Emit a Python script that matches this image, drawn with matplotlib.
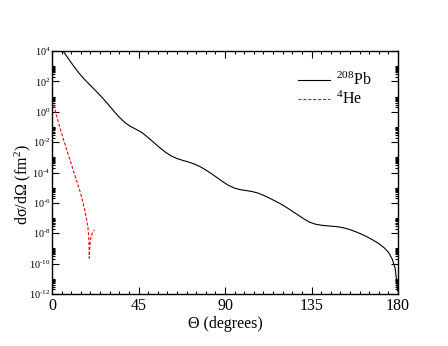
import numpy as np
import matplotlib
matplotlib.use('Agg')
import matplotlib.pyplot as plt
from matplotlib.ticker import FixedLocator, NullFormatter

plt.rcParams['font.family'] = ['Liberation Serif', 'DejaVu Serif']
plt.rcParams['mathtext.fontset'] = 'custom'
plt.rcParams['mathtext.rm'] = 'Liberation Serif'
plt.rcParams['mathtext.it'] = 'Liberation Serif:italic'

# 208Pb cross section, angle (deg) and log10(dsigma/dOmega)
theta_pb = [5.5, 8, 11, 14, 17, 20, 23, 26, 29, 32, 35, 38, 41, 44, 47, 50,
            53, 56, 59, 62, 65, 68, 71, 74, 77, 80, 83, 86, 89, 92, 95, 98,
            101, 104, 107, 110, 113, 116, 119, 122, 125, 128, 131, 134, 137,
            140, 143, 146, 149, 152, 155, 158, 161, 164, 167, 170, 173, 175,
            177, 178.5, 179.4, 179.8]
logsig_pb = [4.05, 3.59, 3.05, 2.55, 2.12, 1.73, 1.35, 0.95, 0.52, 0.07,
             -0.36, -0.72, -0.98, -1.17, -1.39, -1.7, -2.03, -2.36, -2.66,
             -2.91, -3.08, -3.2, -3.31, -3.44, -3.61, -3.83, -4.08, -4.35,
             -4.62, -4.86, -5.03, -5.13, -5.19, -5.25, -5.35, -5.5, -5.68,
             -5.87, -6.07, -6.3, -6.55, -6.8, -7.05, -7.27, -7.4, -7.47,
             -7.51, -7.54, -7.58, -7.65, -7.76, -7.9, -8.06, -8.24, -8.45,
             -8.68, -8.98, -9.25, -9.7, -10.3, -11.27, -11.8]

# 4He cross section
theta_he = [1.0, 2.1, 4.0, 6.0, 8.0, 10.0, 12.0, 14.0, 15.5, 17.0, 18.0, 18.7,
            19.1, 19.3, 19.4, 19.55, 19.8, 20.3, 21.0, 22.0]
logsig_he = [0.45, -0.15, -1.0, -1.84, -2.64, -3.43, -4.22, -5.02, -5.65,
             -6.45, -7.1, -7.65, -8.2, -8.8, -9.64, -9.1, -8.7, -8.25, -7.98,
             -7.78]

xticks = [0, 45, 90, 135, 180]
yexp = [4, 2, 0, -2, -4, -6, -8, -10, -12]


def exp_label(e):
    # plain hyphen for negative exponents, like the original
    if e < 0:
        return r'$10^{\text{-}%d}$' % (-e)
    return r'$10^{%d}$' % e


fig = plt.figure(figsize=(4.48, 3.46), dpi=100)
ax = fig.add_axes([52 / 448, 1 - 294 / 346, 346 / 448, 243 / 346])

ax.plot(theta_pb, 10.0 ** np.array(logsig_pb), color='black', lw=0.8,
        label='$^{208}$Pb')
ax.plot(theta_he, 10.0 ** np.array(logsig_he), color='red', lw=0.8,
        dashes=(2.8, 1.6), label='$^{4}$He')

ax.set_yscale('log')
ax.set_xlim(0, 180)
ax.set_ylim(1e-12, 1e4)

ax.set_xticks(xticks)
ax.set_xticklabels([str(t) for t in xticks], fontsize=11.5)
ax.xaxis.set_minor_locator(FixedLocator(np.arange(0, 181, 5)))

ax.yaxis.set_major_locator(FixedLocator([10.0 ** e for e in yexp]))
ax.set_yticklabels([exp_label(e) for e in yexp], fontsize=7.3)
minors = [k * 10.0 ** e for e in yexp for k in range(2, 11) if e < 4]
ax.yaxis.set_minor_locator(FixedLocator(minors))
ax.yaxis.set_minor_formatter(NullFormatter())

ax.tick_params(which='both', direction='in', top=True, right=True,
               width=0.8, colors='black')
ax.tick_params(which='major', length=4.7, pad=3)
ax.tick_params(axis='y', which='major', pad=1.2)
ax.tick_params(which='minor', length=2.4)
for s in ax.spines.values():
    s.set_linewidth(1.0)

ax.set_xlabel('\u0398 (degrees)', fontsize=11.5, labelpad=1)
ax.set_ylabel('d\u03c3/d\u03a9 (fm$^2$)', fontsize=11.5)
ax.yaxis.set_label_coords(-0.055, 0.45)

ax.legend(loc='upper left', bbox_to_anchor=(0.711, 0.914), frameon=False,
          fontsize=11.5, handlelength=2.0, handletextpad=0.4,
          labelspacing=0.1, borderpad=0, borderaxespad=0)

fig.savefig('out.png', dpi=100)
